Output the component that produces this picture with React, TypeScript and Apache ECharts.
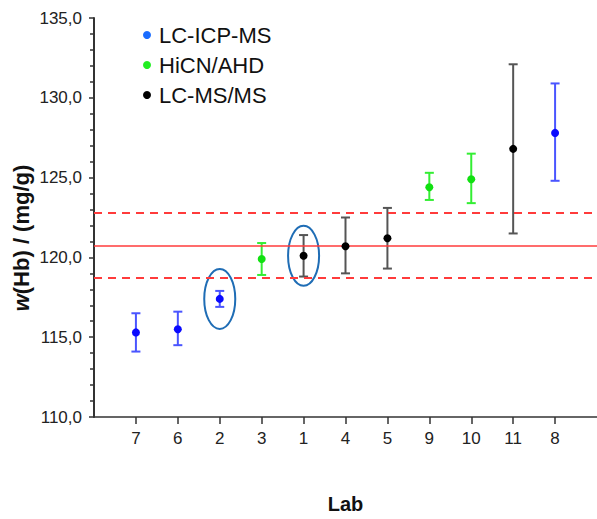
import React, { useEffect, useRef } from "react";
import * as echarts from "echarts";

const labs = ["7", "6", "2", "3", "1", "4", "5", "9", "10", "11", "8"];
const methods = ["LC-ICP-MS", "LC-ICP-MS", "LC-ICP-MS", "HiCN/AHD", "LC-MS/MS", "LC-MS/MS", "LC-MS/MS", "HiCN/AHD", "HiCN/AHD", "LC-MS/MS", "LC-ICP-MS"];
const values = [115.3, 115.5, 117.4, 119.9, 120.1, 120.7, 121.2, 124.4, 124.9, 126.8, 127.8];
const lower = [114.1, 114.5, 116.9, 118.9, 118.8, 119.0, 119.3, 123.6, 123.4, 121.5, 124.8];
const upper = [116.5, 116.6, 117.9, 120.9, 121.4, 122.5, 123.1, 125.3, 126.5, 132.1, 130.9];
const methodNames = ["LC-ICP-MS", "HiCN/AHD", "LC-MS/MS"];
const refMean = 120.7;
const refLower = 118.7;
const refUpper = 122.8;
const highlightedLabs = ["2", "1"];
const yTicks = [110, 115, 120, 125, 130, 135];

const FONT = "Liberation Sans, Arial, sans-serif";
const pointColors: Record<string, string> = {
  "LC-ICP-MS": "#0a0aff",
  "HiCN/AHD": "#11e011",
  "LC-MS/MS": "#000000",
};
const barColors: Record<string, string> = {
  "LC-ICP-MS": "#4a55ff",
  "HiCN/AHD": "#33ee33",
  "LC-MS/MS": "#555555",
};
const legendColors: Record<string, string> = {
  "LC-ICP-MS": "#1a6cff",
  "HiCN/AHD": "#22ee22",
  "LC-MS/MS": "#000000",
};

export default function App() {
  const ref = useRef<HTMLDivElement>(null);
  useEffect(() => {
    if (!ref.current) return;
    const chart = echarts.init(ref.current, undefined, { renderer: "svg" });
    const pos = labs.map((_, i) => i + 1);

    const scatterSeries = methodNames.map((m) => ({
      name: m,
      type: "scatter",
      symbol: "circle",
      symbolSize: 8,
      z: 5,
      itemStyle: { color: pointColors[m], opacity: 1 },
      data: labs
        .map((_, i) => (methods[i] === m ? [pos[i], values[i]] : null))
        .filter((d) => d !== null),
    }));

    const errorData = labs.map((_, i) => [pos[i], lower[i], upper[i], i]);

    const ellipseData = highlightedLabs.map((l) => {
      const i = labs.indexOf(l);
      return [pos[i], values[i]];
    });

    chart.setOption({
      animation: false,
      grid: { left: 94, top: 18, width: 505, height: 405 },
      legend: {
        orient: "vertical",
        left: 138,
        top: 19,
        icon: "circle",
        itemWidth: 8,
        itemHeight: 8,
        itemGap: 8,
        selectedMode: false,
        textStyle: { fontFamily: FONT, fontSize: 22, color: "#111", padding: [0, 0, 0, 3] },
        data: methodNames.map((m) => ({ name: m, itemStyle: { color: legendColors[m] } })),
      },
      xAxis: {
        type: "value",
        min: 0,
        max: labs.length + 1,
        interval: 1,
        name: "Lab",
        nameLocation: "middle",
        nameGap: 77,
        nameTextStyle: { fontFamily: FONT, fontSize: 20, fontWeight: "bold", color: "#111" },
        axisLine: { show: true, lineStyle: { color: "#333", width: 1.5 } },
        axisTick: { show: true, length: 7, customValues: pos, lineStyle: { color: "#333", width: 1.5 } },
        axisLabel: {
          customValues: pos,
          margin: 13,
          fontFamily: FONT,
          fontSize: 17,
          color: "#222",
          formatter: (v: number) => labs[Math.round(v) - 1] ?? "",
        },
        splitLine: { show: false },
      },
      yAxis: {
        type: "value",
        min: yTicks[0],
        max: yTicks[yTicks.length - 1],
        interval: 5,
        axisLine: { show: true, lineStyle: { color: "#333", width: 2 } },
        axisTick: { show: true, length: 5, lineStyle: { color: "#333", width: 1.5 } },
        minorTick: { show: true, splitNumber: 5, length: 4, lineStyle: { color: "#333", width: 1.5 } },
        axisLabel: {
          margin: 12,
          fontFamily: FONT,
          fontSize: 17,
          color: "#222",
          formatter: (v: number) => v.toFixed(1).replace(".", ","),
        },
        splitLine: { show: false },
      },
      graphic: [
        {
          type: "text",
          x: 21,
          y: 238,
          rotation: Math.PI / 2,
          style: {
            text: "{i|w}{n|(Hb) / (mg/g)}",
            align: "center",
            verticalAlign: "middle",
            rich: {
              i: { fontFamily: FONT, fontSize: 22, fontWeight: "bold", fontStyle: "italic", fill: "#111" },
              n: { fontFamily: FONT, fontSize: 22, fontWeight: "bold", fill: "#111" },
            },
          },
        },
      ],
      series: [
        {
          name: "errors",
          type: "custom",
          z: 3,
          silent: true,
          data: errorData,
          renderItem: (params: any, api: any) => {
            const x = api.value(0);
            const lo = api.coord([x, api.value(1)]);
            const hi = api.coord([x, api.value(2)]);
            const idx = api.value(3);
            const color = barColors[methods[idx]];
            const cap = 4.5;
            const style = { stroke: color, lineWidth: 2, fill: "none" };
            return {
              type: "group",
              children: [
                { type: "line", shape: { x1: lo[0], y1: lo[1], x2: hi[0], y2: hi[1] }, style },
                { type: "line", shape: { x1: lo[0] - cap, y1: lo[1], x2: lo[0] + cap, y2: lo[1] }, style },
                { type: "line", shape: { x1: hi[0] - cap, y1: hi[1], x2: hi[0] + cap, y2: hi[1] }, style },
              ],
            };
          },
        },
        {
          name: "ellipses",
          type: "custom",
          z: 4,
          silent: true,
          data: ellipseData,
          renderItem: (params: any, api: any) => {
            const c = api.coord([api.value(0), api.value(1)]);
            const s = api.size([0.37, 1.88]);
            return {
              type: "ellipse",
              shape: { cx: c[0], cy: c[1], rx: s[0], ry: s[1] },
              style: { stroke: "#1f6db5", lineWidth: 2, fill: "none" },
            };
          },
        },
        {
          name: "ref",
          type: "line",
          data: [],
          silent: true,
          markLine: {
            silent: true,
            symbol: "none",
            label: { show: false },
            data: [
              { yAxis: refMean, lineStyle: { color: "#ff3b3b", width: 1.5, type: "solid" } },
              { yAxis: refUpper, lineStyle: { color: "#ff3b3b", width: 2, type: [8, 6] } },
              { yAxis: refLower, lineStyle: { color: "#ff3b3b", width: 2, type: [8, 6] } },
            ],
          },
        },
        ...scatterSeries,
      ],
    });
    return () => chart.dispose();
  }, []);
  return <div ref={ref} style={{ width: 597, height: 519, position: "absolute", left: 0, top: 0 }} />;
}
